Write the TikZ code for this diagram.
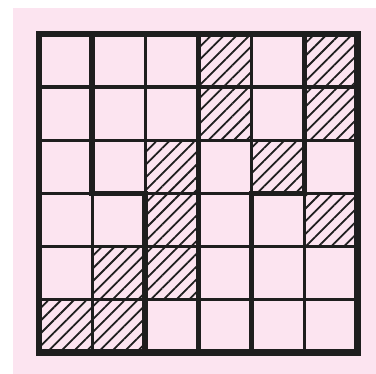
\documentclass[tikz,border=0pt]{standalone}
\usepackage{xcolor}
\usepackage{tikz}
\usetikzlibrary{patterns.meta}

\definecolor{bgpink}{RGB}{252,228,240}
\definecolor{inkblack}{RGB}{30,30,30}

\begin{document}
\begin{tikzpicture}[
    x=1pt,
    y=-1pt,
    thinline/.style={
        draw=inkblack,
        line width=3.2pt
    },
    thickline/.style={
        draw=inkblack,
        line width=5.5pt,
        line cap=rect
    },
    border/.style={
        draw=inkblack,
        line width=6.5pt
    },
    hatched/.style={
        pattern={Lines[angle=45,distance=9pt,line width=1.8pt]},
        pattern color=inkblack
    }
]

% ==========================================================
% BACKGROUND
% ==========================================================
\useasboundingbox (0,0) rectangle (376,374);
\fill[bgpink] (13,8) rectangle (376,374);

\def\cell{53.1}

% ==========================================================
% HATCHED CELLS
% ==========================================================
\foreach \r/\c in {0/3,0/5,1/3,1/5,2/2,2/4,3/2,3/5,4/1,4/2,5/0,5/1}
    \fill[hatched] (39+\c*\cell,34+\r*\cell) rectangle ++(\cell,\cell);

% ==========================================================
% GRID
% ==========================================================
\foreach \i in {1,...,5} {
    \draw[thinline] (39+\i*\cell,34) -- ++(0,6*\cell);
    \draw[thinline] (39,34+\i*\cell) -- ++(6*\cell,0);
}

% ==========================================================
% REGION BOUNDARIES
% ==========================================================
\draw[thickline] (39+\cell,34) -- (39+\cell,34+3*\cell)
    -- (39+2*\cell,34+3*\cell) -- (39+2*\cell,34+6*\cell);
\draw[thickline] (39+3*\cell,34) -- (39+3*\cell,34+6*\cell);
\draw[thickline] (39+5*\cell,34) -- (39+5*\cell,34+3*\cell)
    -- (39+4*\cell,34+3*\cell) -- (39+4*\cell,34+6*\cell);

% outer frame
\draw[border] (39,34) rectangle (39+6*\cell,34+6*\cell);

\end{tikzpicture}
\end{document}
